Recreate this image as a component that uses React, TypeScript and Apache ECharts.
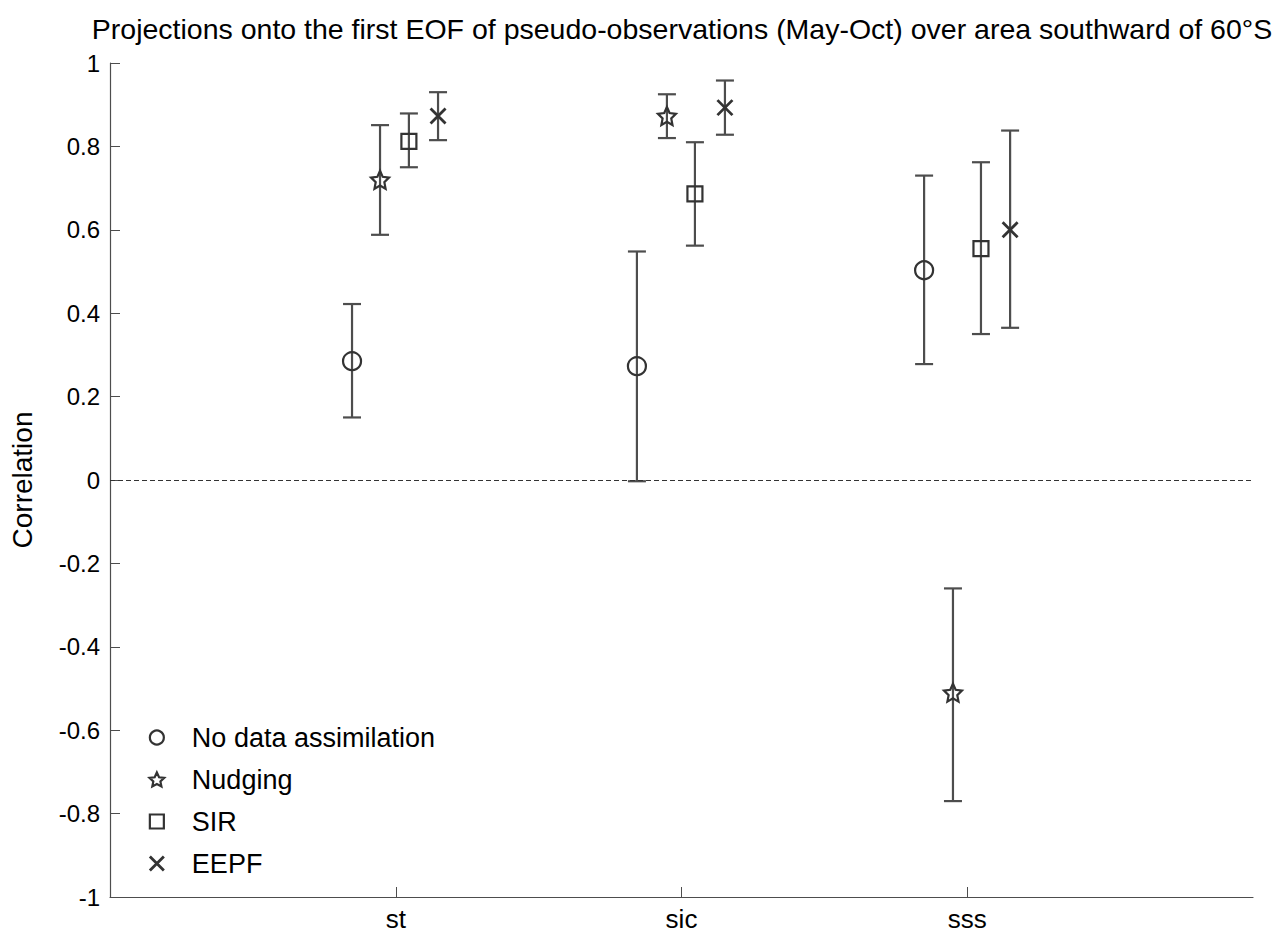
import React, { useEffect, useRef } from "react";
import * as echarts from "echarts";

const categories = ["st", "sic", "sss"];
const categoryPos = [1, 2, 3];

const seriesNames = ["No data assimilation", "Nudging", "SIR", "EEPF"];

// x positions (category index + dodge), centre values, lower and upper error limits
const noDaX = [0.847, 1.844, 2.849];
const noDaVal = [0.285, 0.273, 0.503];
const noDaLow = [0.15, -0.003, 0.278];
const noDaHigh = [0.422, 0.548, 0.73];

const nudgX = [0.945, 1.949, 2.95];
const nudgVal = [0.72, 0.873, -0.51];
const nudgLow = [0.588, 0.82, -0.77];
const nudgHigh = [0.851, 0.925, -0.26];

const sirX = [1.046, 2.047, 3.048];
const sirVal = [0.812, 0.686, 0.555];
const sirLow = [0.75, 0.562, 0.35];
const sirHigh = [0.879, 0.81, 0.762];

const eepfX = [1.148, 2.152, 3.15];
const eepfVal = [0.873, 0.893, 0.6];
const eepfLow = [0.815, 0.828, 0.365];
const eepfHigh = [0.93, 0.958, 0.838];

const yTicks = [-1, -0.8, -0.6, -0.4, -0.2, 0, 0.2, 0.4, 0.6, 0.8, 1];

function starPath(): string {
  const pts: string[] = [];
  for (let i = 0; i < 10; i++) {
    const r = i % 2 === 0 ? 10 : 4.8;
    const a = -Math.PI / 2 + (i * Math.PI) / 5;
    const px = 10 + r * Math.cos(a);
    const py = 10 + r * Math.sin(a);
    pts.push((i === 0 ? "M" : "L") + px.toFixed(2) + "," + py.toFixed(2));
  }
  return "path://" + pts.join("") + "Z";
}

const STAR = starPath();
const CROSS = "path://M0,0L10,10M10,0L0,10";
const SQUARE = "path://M0,0L10,0L10,10L0,10Z";

const MARK = "#333333";
const BAR = "#4d4d4d";
const FONT = "Liberation Sans";

export default function App() {
  const ref = useRef<HTMLDivElement>(null);
  useEffect(() => {
    document.body.style.margin = "0";
    if (!ref.current) return;
    const chart = echarts.init(ref.current, undefined, { renderer: "svg" });

    const groups = [
      { name: seriesNames[0], x: noDaX, v: noDaVal, lo: noDaLow, hi: noDaHigh, symbol: "circle", size: 18 },
      { name: seriesNames[1], x: nudgX, v: nudgVal, lo: nudgLow, hi: nudgHigh, symbol: STAR, size: 18 },
      { name: seriesNames[2], x: sirX, v: sirVal, lo: sirLow, hi: sirHigh, symbol: SQUARE, size: 15 },
      { name: seriesNames[3], x: eepfX, v: eepfVal, lo: eepfLow, hi: eepfHigh, symbol: CROSS, size: 15 },
    ];

    const series: any[] = [];
    groups.forEach((g) => {
      series.push({
        type: "custom",
        name: g.name + " err",
        silent: true,
        z: 2,
        data: g.x.map((x, i) => [x, g.lo[i], g.hi[i]]),
        renderItem: (params: any, api: any) => {
          const x = api.value(0);
          const p1 = api.coord([x, api.value(1)]);
          const p2 = api.coord([x, api.value(2)]);
          const hw = 9;
          const style = { stroke: BAR, lineWidth: 2.2, fill: "none" };
          return {
            type: "group",
            children: [
              { type: "line", shape: { x1: p1[0], y1: p1[1], x2: p2[0], y2: p2[1] }, style },
              { type: "line", shape: { x1: p1[0] - hw, y1: p1[1], x2: p1[0] + hw, y2: p1[1] }, style },
              { type: "line", shape: { x1: p2[0] - hw, y1: p2[1], x2: p2[0] + hw, y2: p2[1] }, style },
            ],
          };
        },
      });
    });
    groups.forEach((g, gi) => {
      const s: any = {
        type: "scatter",
        name: g.name,
        z: 3,
        symbol: g.symbol,
        symbolSize: g.size,
        data: g.x.map((x, i) => [x, g.v[i]]),
        itemStyle: {
          color: "none",
          borderColor: MARK,
          borderWidth: g.symbol === CROSS ? 2.8 : 2.2,
          opacity: 1,
        },
      };
      if (gi === 0) {
        s.markLine = {
          silent: true,
          symbol: ["none", "none"],
          label: { show: false },
          lineStyle: { color: MARK, type: [5, 3], width: 1 },
          data: [{ yAxis: 0 }],
        };
      }
      series.push(s);
    });

    chart.setOption({
      animation: false,
      backgroundColor: "#ffffff",
      textStyle: { fontFamily: FONT },
      title: {
        text: "Projections onto the first EOF of pseudo-observations (May-Oct) over area southward of 60°S",
        left: 677,
        top: 9,
        textAlign: "center",
        textStyle: { fontFamily: FONT, fontSize: 28.5, fontWeight: "normal", color: "#000" },
      },
      grid: { left: 110, right: 33, top: 63, bottom: 41 },
      legend: {
        orient: "vertical",
        left: 142,
        top: 719,
        itemWidth: 60,
        itemHeight: 14,
        itemGap: 15,
        data: seriesNames,
        textStyle: { fontFamily: FONT, fontSize: 27, color: "#000" },
        itemStyle: { borderWidth: "inherit" },
      },
      xAxis: {
        type: "value",
        min: 0,
        max: 4,
        interval: 1,
        splitLine: { show: false },
        axisLine: { onZero: false, lineStyle: { color: BAR, width: 1.2 } },
        axisTick: { inside: true, length: 10, customValues: categoryPos, lineStyle: { color: BAR } },
        axisLabel: {
          customValues: categoryPos,
          formatter: (v: number) => categories[categoryPos.indexOf(Math.round(v))] ?? "",
          fontSize: 26,
          color: "#000",
          margin: 9,
          fontFamily: FONT,
        },
      },
      yAxis: {
        type: "value",
        min: -1,
        max: 1,
        interval: 0.2,
        name: "Correlation",
        nameLocation: "middle",
        nameGap: 74,
        nameRotate: 90,
        nameTextStyle: { fontSize: 28, color: "#000", fontFamily: FONT },
        splitLine: { show: false },
        axisLine: { show: true, onZero: false, lineStyle: { color: BAR, width: 1.2 } },
        axisTick: { show: true, inside: true, length: 10, lineStyle: { color: BAR } },
        axisLabel: {
          customValues: yTicks,
          formatter: (v: number) => String(Math.round(v * 10) / 10),
          fontSize: 24,
          color: "#000",
          margin: 10,
          fontFamily: FONT,
        },
      },
      series,
    });
    return () => chart.dispose();
  }, []);
  return <div ref={ref} style={{ width: 1286, height: 938 }} />;
}
